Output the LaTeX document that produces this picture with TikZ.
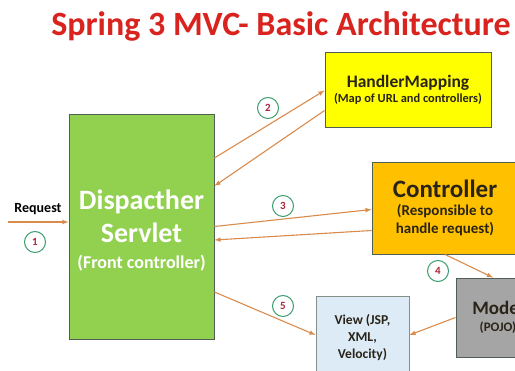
\documentclass[tikz,border=0pt]{standalone}
\usepackage{fontspec}
\setmainfont{Carlito}
\usepackage{tikz}
\usetikzlibrary{arrows}

\definecolor{titlered}{HTML}{D8231F}
\definecolor{dispgreen}{HTML}{92D050}
\definecolor{hmyellow}{HTML}{FFFF00}
\definecolor{ctrlorange}{HTML}{FFC000}
\definecolor{modelgray}{HTML}{A5A5A5}
\definecolor{viewblue}{HTML}{DDEBF7}
\definecolor{edgegray}{HTML}{4F5F55}
\definecolor{flow}{HTML}{D98B4C}
\definecolor{stepgreen}{HTML}{3A9E6E}
\definecolor{stepred}{HTML}{A8283A}
\definecolor{darktext}{HTML}{2A2418}

\begin{document}
\begin{tikzpicture}[x=1pt, y=-1pt, thick,
		box/.style={draw=edgegray, line width=0.9pt, align=center, inner sep=0pt, text=darktext},
		flowline/.style={draw=flow, line width=1.1pt, -latex},
		stepno/.style={circle, draw=stepgreen, line width=1pt, fill=white, text=stepred, minimum size=21pt, inner sep=0pt, font=\bfseries\fontsize{11}{11}\selectfont}]
		\useasboundingbox (0,0) rectangle (515,371);
		\clip (0,0) rectangle (515,371);
		% title
		\node[text=titlered, font=\bfseries\fontsize{34}{34}\selectfont] (title) at (281,26.5) {Spring 3 MVC- Basic Architecture};
		% dispatcher
		\node[box, fill=dispgreen, text=white, minimum width=145pt, minimum height=225pt, font=\bfseries\fontsize{28}{26}\selectfont] (disp) at (141.5,226.5)
			{\rule{0pt}{27pt}Dispacther\\[7pt] Servlet\\ \fontsize{18}{26}\selectfont (Front controller)};
		% handler mapping
		\node[box, fill=hmyellow, minimum width=166pt, minimum height=75pt, font=\bfseries\fontsize{17.5}{15}\selectfont] (hm) at (408,89.5)
			{HandlerMapping\\ \fontsize{12.4}{15}\selectfont (Map of URL and controllers)};
		% controller
		\node[box, fill=ctrlorange, minimum width=146pt, minimum height=92pt, font=\bfseries\fontsize{25}{18}\selectfont] (ctrl) at (445,208)
			{Controller\\ \fontsize{15}{18}\selectfont (Responsible to\\ \fontsize{15}{18}\selectfont handle request)};
		% model
		\node[box, fill=modelgray, minimum width=84pt, minimum height=79pt, font=\bfseries\fontsize{19}{17}\selectfont] (model) at (498,317.5)
			{Model\\ \fontsize{13}{17}\selectfont (POJO)};
		% view
		\node[box, draw=edgegray!70, fill=viewblue, minimum width=93pt, minimum height=84pt, font=\bfseries\fontsize{13.6}{17}\selectfont] (view) at (362.5,338)
			{View (JSP,\\ XML,\\ Velocity)};
		% request
		\coordinate (req) at (8,222);
		\draw[flowline] (req) -- ([yshift=4.5pt]disp.west);
		\node[font=\bfseries\fontsize{14}{14}\selectfont] (reqlabel) at (38,209) {Request};
		% flow
		\draw[flowline] ([yshift=68.5pt]disp.east) -- ([yshift=-1pt]hm.west);
		\draw[flowline] ([yshift=-21pt]hm.west) -- ([yshift=40.5pt]disp.east);
		\draw[flowline] (disp.east) -- ([yshift=-1.5pt]ctrl.west);
		\draw[flowline] ([yshift=-22.5pt]ctrl.west) -- ([yshift=-13.5pt]disp.east);
		\draw[flowline] (ctrl.south) -- ([xshift=-5pt]model.north);
		\draw[flowline] ([yshift=-65.5pt]disp.east) -- ([yshift=3pt]view.west);
		\draw[flowline] (model.west) -- ([yshift=3pt]view.east);
		% steps
		\node[stepno] (s1) at (35,242) {1};
		\node[stepno] (s2) at (268,108) {2};
		\node[stepno] (s3) at (283,206) {3};
		\node[stepno] (s4) at (438,271) {4};
		\node[stepno] (s5) at (283,306) {5};
	\end{tikzpicture}
\end{document}
